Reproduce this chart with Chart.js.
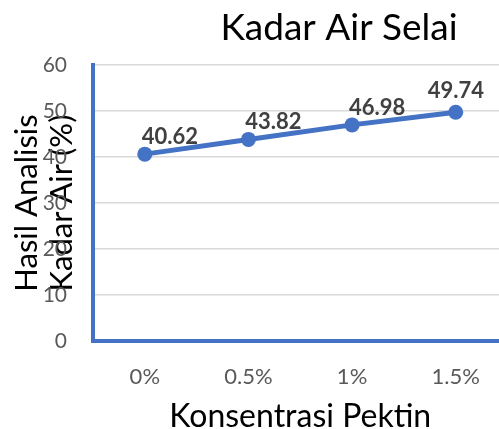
<!DOCTYPE html>
<html>
<head>
<meta charset="utf-8">
<script src="https://cdn.jsdelivr.net/npm/chart.js@4"></script>
<style>
html,body{margin:0;padding:0;overflow:hidden;background:#fff;width:499px;height:429px;}
#wrap{width:515px;height:429px;}
</style>
</head>
<body>
<div id="wrap"><canvas id="c" width="515" height="429"></canvas></div>
<script>
const titleText = 'Kadar Air Selai';
const categories = ['0%', '0.5%', '1%', '1.5%'];
const kadarAir = [40.62, 43.82, 46.98, 49.74];
const yTitle = ['Hasil Analisis', 'Kadar Air (%)'];
const xTitle = 'Konsentrasi Pektin';
const yMin = 0, yMax = 60, yStep = 10;

const BLUE = '#4472C4';
const FONT = 'Lato, Carlito, "Open Sans", sans-serif';

const titlePlugin = {
  id: 'customTitle',
  afterDraw(chart) {
    const ctx = chart.ctx;
    ctx.save();
    ctx.font = '37px ' + FONT;
    ctx.fillStyle = '#000';
    ctx.textAlign = 'center';
    ctx.textBaseline = 'alphabetic';
    ctx.fillText(titleText, 339, 40);
    ctx.restore();
  }
};

const labelPlugin = {
  id: 'valueLabels',
  afterDatasetsDraw(chart) {
    const ctx = chart.ctx;
    const meta = chart.getDatasetMeta(0);
    ctx.save();
    ctx.font = 'bold 22px ' + FONT;
    ctx.fillStyle = '#404040';
    ctx.textAlign = 'center';
    ctx.textBaseline = 'alphabetic';
    meta.data.forEach((pt, i) => {
      const txt = kadarAir[i].toFixed(2);
      const w = ctx.measureText(txt).width;
      let x = pt.x + 25;
      let y = pt.y - 10;
      const maxX = 484 - w / 2;
      if (x > maxX) { x = maxX; y = pt.y - 14; }
      ctx.fillText(txt, x, y);
    });
    ctx.restore();
  }
};

new Chart(document.getElementById('c'), {
  type: 'line',
  data: {
    labels: categories,
    datasets: [{
      data: kadarAir,
      borderColor: BLUE,
      backgroundColor: BLUE,
      borderWidth: 5,
      pointRadius: 7.5,
      pointHoverRadius: 7.5,
      pointBorderWidth: 0,
      pointBackgroundColor: BLUE,
      tension: 0,
      fill: false
    }]
  },
  options: {
    responsive: false,
    animation: false,
    events: [],
    layout: { padding: { top: 65, right: 7, left: 0, bottom: 0 } },
    plugins: {
      legend: { display: false },
      title: { display: false },
      tooltip: { enabled: false }
    },
    scales: {
      x: {
        type: 'category',
        offset: true,
        grid: { display: false, drawTicks: false },
        border: { display: true, color: BLUE, width: 4 },
        ticks: {
          color: '#595959',
          font: { family: FONT, size: 22 },
          padding: 23,
          maxRotation: 0,
          autoSkip: false
        },
        title: {
          display: true,
          text: xTitle,
          color: '#000',
          font: { family: FONT, size: 32, lineHeight: 0.8 },
          padding: { top: 0, bottom: 0 }
        },
        afterFit(scale) { scale.height = 88; }
      },
      y: {
        min: yMin,
        max: yMax,
        grid: { color: '#d9d9d9', lineWidth: 1.5, drawTicks: false },
        border: { display: true, color: BLUE, width: 4 },
        ticks: {
          stepSize: yStep,
          color: '#595959',
          font: { family: FONT, size: 21 },
          padding: 26
        },
        title: {
          display: true,
          text: yTitle,
          color: '#000',
          font: { family: FONT, size: 31, lineHeight: 1.13 },
          padding: { top: 9, bottom: 0 }
        },
        afterFit(scale) { scale.width = 93; }
      }
    }
  },
  plugins: [titlePlugin, labelPlugin]
});
</script>
</body>
</html>
